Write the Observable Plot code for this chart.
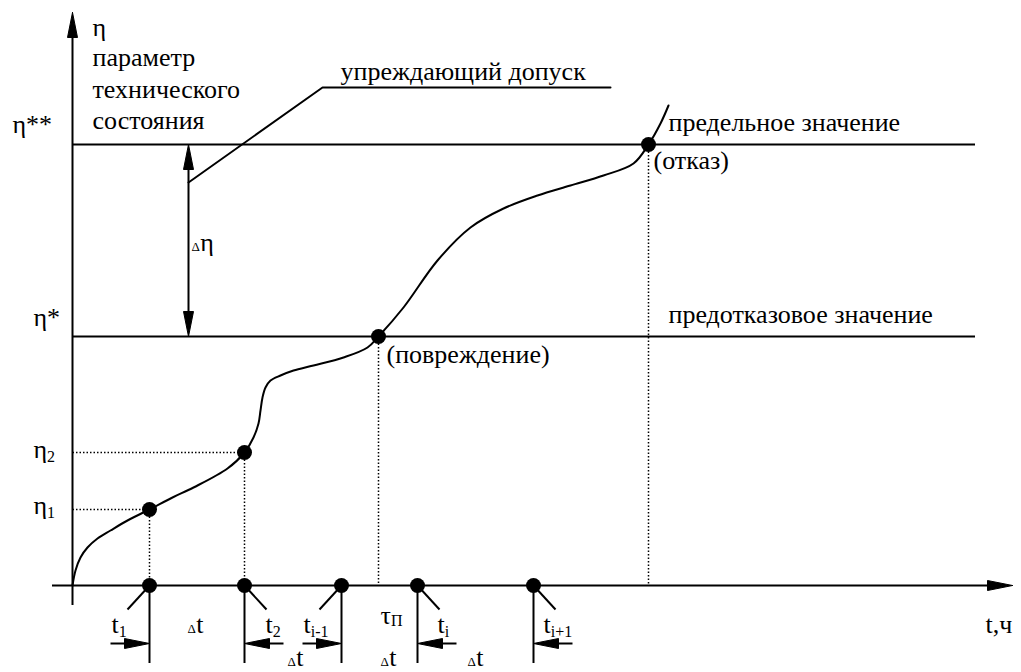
<!DOCTYPE html>
<html><head><meta charset="utf-8">
<script src="https://cdn.jsdelivr.net/npm/d3@7"></script>
<script src="https://cdn.jsdelivr.net/npm/@observablehq/plot@0.6"></script>
<style>
html,body{margin:0;padding:0;background:#fff;}
#chart svg text{font-family:"Liberation Serif","Times New Roman",serif !important;}
</style>
</head><body><div id="chart"></div>
<script>
// ---------- data (t, η in diagram units) ----------
const curveT   = [0, 0.3, 0.8, 1.5, 2.5, 3.8, 5.5, 7.7, 10.0, 12.1, 15.5, 17.2, 18.1, 18.6, 18.8, 19.0, 19.3, 19.8, 20.8, 22.1, 24.1, 27.1, 29.5, 30.6, 33.1, 36.5, 39.8, 43.1, 46.5, 49.8, 53.1, 56.1, 57.6, 58.8, 59.6];
const curveEta = [0, 1.5, 2.8, 3.8, 4.7, 5.5, 6.5, 7.6, 8.8, 9.8, 11.7, 13.3, 14.8, 16.2, 17.5, 18.8, 19.8, 20.5, 21.0, 21.5, 22.0, 22.8, 23.8, 24.9, 27.8, 32.5, 35.8, 37.7, 39.0, 40.0, 41.0, 42.2, 44.1, 46.2, 48.0];

const levelNames  = ["η*", "η**"];
const levelValues = [24.9, 44.1];
const levelEnd = 90.3;

const keyT   = [7.7, 17.2, 30.6, 57.6];   // t1, t2, τП, failure
const keyEta = [7.6, 13.3, 24.9, 44.1];   // η1, η2, η*, η**

const sampleT    = [7.7, 17.2, 26.9, 34.5, 46.1];  // t1, t2, t(i-1), t(i), t(i+1)
const sampleSide = [-1, 1, -1, 1, 1];

const axisT   = [-2.0, 94.0];
const axisEta = [-2.0, 57.3];

// Δη dimension and leader of "упреждающий допуск"
const deltaEtaT = 11.6;
const leaderT   = [11.6, 25.0, 53.8];
const leaderEta = [40.3, 49.8, 49.8];

// labels: prefix (small), base, subscript, anchor t, anchor η (baseline)
const labelPre  = ["", "", "", "", "", "", "", "", "", "Δ", "", "", "", "", "", "Δ", "", "", "", "", "", "Δ", "Δ", "Δ", ""];
const labelBase = ["η", "параметр", "технического", "состояния", "упреждающий допуск", "η**", "η*", "η", "η", "η",
                   "предельное значение", "(отказ)", "предотказовое значение", "(повреждение)",
                   "t", "t", "t", "t", "τ", "t", "t", "t", "t", "t", "t,ч"];
const labelSub  = ["", "", "", "", "", "", "", "2", "1", "",
                   "", "", "", "",
                   "1", "", "2", "i-1", "П", "i", "i+1", "", "", "", ""];
const labelT    = [2.0, 2.0, 2.0, 2.0, 26.8, -6.0, -3.9, -3.9, -3.9, 11.9,
                   59.6, 58.1, 59.6, 31.4,
                   3.9, 11.5, 19.3, 23.1, 30.8, 36.5, 47.1, 21.5, 30.8, 39.5, 91.3];
const labelEta  = [55.0, 52.0, 48.8, 45.7, 50.6, 45.3, 26.0, 12.8, 7.2, 33.5,
                   45.5, 41.7, 26.3, 22.3,
                   -4.7, -4.7, -4.7, -4.7, -3.8, -4.7, -4.7, -8.0, -8.0, -8.0, -4.7];

// ---------- build ----------
const FONT = "'Liberation Serif', 'Times New Roman', serif";
const BASE = 26, SUB = 16, PRE = 13;
const pxPerUnit = 10;
const ctx = document.createElement("canvas").getContext("2d");
const measure = (s, size) => { ctx.font = `${size}px ${FONT}`; return ctx.measureText(s).width; };

const curve = curveT.map((t, i) => ({t, eta: curveEta[i]}));
const keyPts = keyT.map((t, i) => ({t, eta: keyEta[i]}));
const samples = sampleT.map((t, i) => ({t, side: sampleSide[i]}));

const preP = [], baseP = [], subP = [];
labelBase.forEach((b, i) => {
  let x = labelT[i];
  const y = labelEta[i];
  if (labelPre[i]) { preP.push({x, y, s: labelPre[i]}); x += (measure(labelPre[i], PRE) + 0.5) / pxPerUnit; }
  baseP.push({x, y, s: b});
  x += measure(b, BASE) / pxPerUnit;
  if (labelSub[i]) subP.push({x, y: y - (b === "τ" ? 0.2 : 0.45), s: labelSub[i]});
});

// arrowheads (filled triangles), computed from tip positions
const HL = 2.5, HW = 0.5;
const heads = [];
let hid = 0;
function addHead(x, y, dx, dy) {
  const bx = x - dx * HL, by = y - dy * HL;
  const px = -dy * HW, py = dx * HW;
  const id = hid++;
  [[x, y], [bx + px, by + py], [bx - px, by - py], [x, y]].forEach(([a, b]) => heads.push({id, x: a, y: b}));
}
addHead(axisT[1], 0, 1, 0);
addHead(0, axisEta[1], 0, 1);
addHead(deltaEtaT, levelValues[1], 0, 1);
addHead(deltaEtaT, levelValues[0], 0, -1);
const arrowY = -5.8, arrowLen = 3.9;
samples.forEach(s => addHead(s.t, arrowY, -s.side, 0));

const leader = leaderT.map((t, i) => ({t, eta: leaderEta[i]}));

const chart = Plot.plot({
  width: 1021, height: 672,
  marginTop: 0, marginRight: 0, marginBottom: 0, marginLeft: 0,
  x: {domain: [-7.2, 94.9], axis: null},
  y: {domain: [-8.7, 58.5], axis: null},
  style: {background: "#fff", color: "#000", fontFamily: FONT},
  marks: [
    Plot.link(keyPts, {x1: "t", y1: "eta", x2: "t", y2: 0, stroke: "#000", strokeWidth: 1.5, strokeDasharray: "1.5,2"}),
    Plot.link(keyPts.slice(0, 2), {x1: 0, y1: "eta", x2: "t", y2: "eta", stroke: "#000", strokeWidth: 1.5, strokeDasharray: "1.5,2"}),
    Plot.ruleY([0], {x1: axisT[0], x2: axisT[1] - 1, stroke: "#000", strokeWidth: 2}),
    Plot.ruleX([0], {y1: axisEta[0], y2: axisEta[1] - 1, stroke: "#000", strokeWidth: 2}),
    Plot.ruleY(levelValues, {x1: 0, x2: levelEnd, stroke: "#000", strokeWidth: 2}),
    Plot.ruleX([deltaEtaT], {y1: levelValues[0] + 1, y2: levelValues[1] - 1, stroke: "#000", strokeWidth: 2}),
    Plot.line(leader, {x: "t", y: "eta", stroke: "#000", strokeWidth: 2}),
    Plot.line(curve, {x: "t", y: "eta", curve: "catmull-rom", stroke: "#000", strokeWidth: 2}),
    Plot.ruleX(samples, {x: "t", y1: 0, y2: -7.8, stroke: "#000", strokeWidth: 2}),
    Plot.link(samples, {x1: "t", y1: 0, x2: d => d.t + d.side * 2.2, y2: -2.4, stroke: "#000", strokeWidth: 2}),
    Plot.link(samples, {x1: d => d.t + d.side * arrowLen, y1: arrowY, x2: d => d.t + d.side * 1, y2: arrowY, stroke: "#000", strokeWidth: 2}),
    Plot.line(heads, {x: "x", y: "y", z: "id", fill: "#000", stroke: "#000", strokeWidth: 1}),
    Plot.dot(keyPts, {x: "t", y: "eta", r: 7.5, fill: "#000"}),
    Plot.dot(samples, {x: "t", y: 0, r: 7.5, fill: "#000"}),
    Plot.text(preP, {x: "x", y: "y", text: "s", fontSize: PRE, fontFamily: FONT, textAnchor: "start", lineAnchor: "bottom", fill: "#000"}),
    Plot.text(baseP, {x: "x", y: "y", text: "s", fontSize: BASE, fontFamily: FONT, textAnchor: "start", lineAnchor: "bottom", fill: "#000"}),
    Plot.text(subP, {x: "x", y: "y", text: "s", fontSize: SUB, fontFamily: FONT, textAnchor: "start", lineAnchor: "bottom", fill: "#000"})
  ]
});
document.getElementById("chart").appendChild(chart);
</script>
</body></html>
